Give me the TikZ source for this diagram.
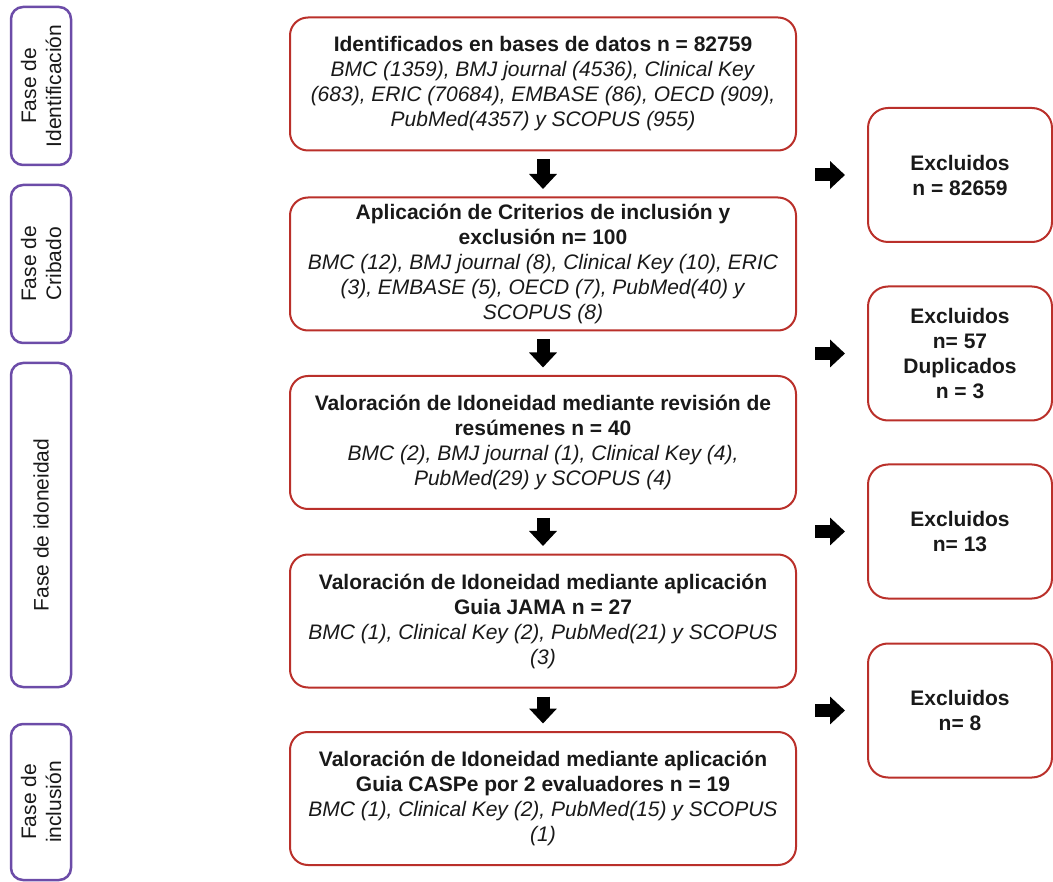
\documentclass[tikz,border=0pt]{standalone}
\usepackage{fontspec}
\setmainfont{Liberation Sans}
\usetikzlibrary{arrows.meta}
\definecolor{boxred}{RGB}{186,48,42}
\definecolor{phasepurple}{RGB}{108,76,168}
\begin{document}
\begin{tikzpicture}[x=1pt, y=-1pt,
    every node/.style={font=\fontsize{21}{25}\selectfont, text=black!90},
    phase/.style={draw=phasepurple, line width=2.5pt, rounded corners=12pt, rotate=90, minimum height=60pt, align=center, inner sep=0pt},
    stage/.style={draw=boxred, line width=2pt, rounded corners=18pt, minimum width=506pt, minimum height=133pt, align=center, inner sep=0pt},
    excl/.style={draw=boxred, line width=2pt, rounded corners=20pt, minimum width=184pt, minimum height=134pt, align=center, inner sep=0pt, font=\fontsize{21}{25}\selectfont\bfseries},
    blockarrow/.style={line width=13pt, -{Triangle[width=27pt, length=15pt]}}]
    \useasboundingbox (0,0) rectangle (1053,882);

    % Draw the phase labels on the left
    \node[phase, minimum width=158pt] (fident) at (41,86) {Fase de\\Identificación};
    \node[phase, minimum width=158pt] (fcrib) at (41,264) {Fase de\\Cribado};
    \node[phase, minimum width=324pt] (fidon) at (41,525) {Fase de idoneidad};
    \node[phase, minimum width=156pt] (fincl) at (41,802) {Fase de\\inclusión};

    % Draw the main stages
    \node[stage] (ident) at (543,84) {\textbf{Identificados en bases de datos n = 82759}\\
        \textit{BMC (1359), BMJ journal (4536), Clinical Key}\\
        \textit{(683), ERIC (70684), EMBASE (86), OECD (909),}\\
        \textit{PubMed(4357) y SCOPUS (955)}};
    \node[stage] (crib) at (543,264) {\textbf{Aplicación de Criterios de inclusión y}\\
        \textbf{exclusión n= 100}\\
        \textit{BMC (12), BMJ journal (8), Clinical Key (10), ERIC}\\
        \textit{(3), EMBASE (5), OECD (7), PubMed(40) y}\\
        \textit{SCOPUS (8)}};
    \node[stage] (resum) at (543,442.5) {\textbf{Valoración de Idoneidad mediante revisión de}\\
        \textbf{resúmenes n = 40}\\
        \textit{BMC (2), BMJ journal (1), Clinical Key (4),}\\
        \textit{PubMed(29) y SCOPUS (4)}};
    \node[stage] (jama) at (543,621) {\textbf{Valoración de Idoneidad mediante aplicación}\\
        \textbf{Guia JAMA n = 27}\\
        \textit{BMC (1), Clinical Key (2), PubMed(21) y SCOPUS}\\
        \textit{(3)}};
    \node[stage] (caspe) at (543,798.5) {\textbf{Valoración de Idoneidad mediante aplicación}\\
        \textbf{Guia CASPe por 2 evaluadores n = 19}\\
        \textit{BMC (1), Clinical Key (2), PubMed(15) y SCOPUS}\\
        \textit{(1)}};

    % Draw the excluded boxes on the right
    \node[excl] (exc1) at (960,175) {Excluidos\\n = 82659};
    \node[excl] (exc2) at (960,353.5) {Excluidos\\n= 57\\Duplicados\\n = 3};
    \node[excl] (exc3) at (960,531.5) {Excluidos\\n= 13};
    \node[excl] (exc4) at (960,710.5) {Excluidos\\n= 8};

    % Draw the arrows down the stages
    \draw[blockarrow, shorten <=8pt, shorten >=7.5pt] (ident) -- (crib);
    \draw[blockarrow, shorten <=8pt, shorten >=7.5pt] (crib) -- (resum);
    \draw[blockarrow, shorten <=8pt, shorten >=7.5pt] (resum) -- (jama);
    \draw[blockarrow, shorten <=8pt, shorten >=7.5pt] (jama) -- (caspe);

    % Draw the arrows to the excluded boxes
    \draw[blockarrow, shorten <=18pt, shorten >=22pt] (ident.east |- exc1.west) -- (exc1.west);
    \draw[blockarrow, shorten <=18pt, shorten >=22pt] (ident.east |- exc2.west) -- (exc2.west);
    \draw[blockarrow, shorten <=18pt, shorten >=22pt] (ident.east |- exc3.west) -- (exc3.west);
    \draw[blockarrow, shorten <=18pt, shorten >=22pt] (ident.east |- exc4.west) -- (exc4.west);

\end{tikzpicture}
\end{document}
